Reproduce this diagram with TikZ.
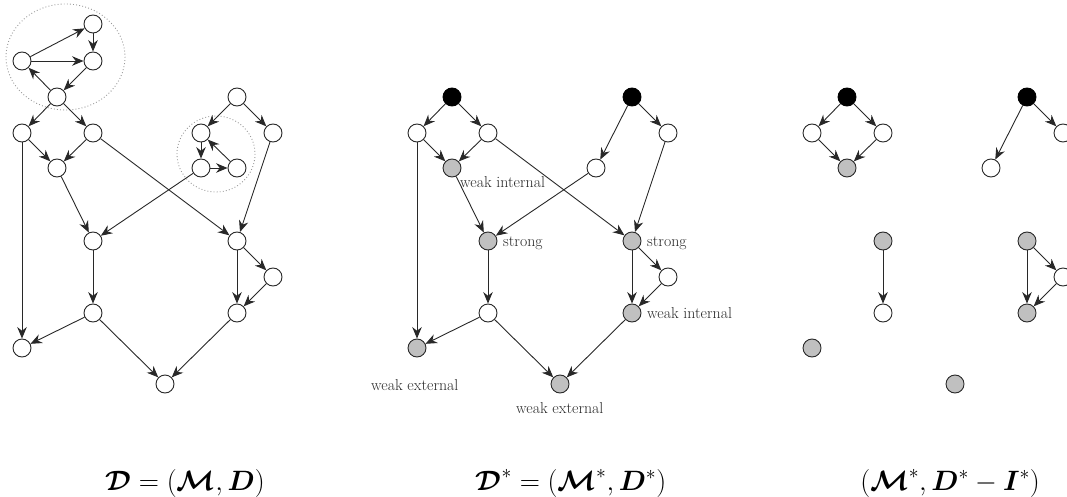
\RequirePackage{fix-cm}
\documentclass[tikz,border=0pt]{standalone}
\usepackage{amsmath,bm}
\usepackage{fontspec}
\usetikzlibrary{arrows.meta}
\definecolor{ln}{RGB}{40,40,40}
\definecolor{gfill}{RGB}{192,192,192}
\definecolor{txt}{RGB}{40,40,40}
\tikzset{
 vx/.style={circle,draw=ln,line width=0.9pt,minimum size=18pt,inner sep=0pt,fill=white},
 gv/.style={vx,fill=gfill},
 bv/.style={vx,fill=black,draw=black},
 ed/.style={-{Stealth[length=11.5pt,width=9.5pt,inset=3.8pt]},line width=0.9pt,draw=ln},
 lbl/.style={font=\fontsize{15.8}{18}\selectfont,text=txt,inner sep=0pt,anchor=base west},
 captxt/.style={font=\fontsize{28}{32}\selectfont,inner sep=0pt,anchor=base},
 grp/.style={draw=gray!80,line width=0.9pt,dash pattern=on 0.9pt off 2.2pt}
}
\begin{document}
\begin{tikzpicture}[x=1pt,y=-1pt]
\useasboundingbox (0,0) rectangle (1067,497);
\clip (0,0) rectangle (1067,497);

% ---------- left graph ----------
\draw[grp] (65.5,57) ellipse [x radius=59.5, y radius=53];
\draw[grp] (216,154) ellipse [x radius=39, y radius=38];
\node[vx] (LA) at (93,24) {};
\node[vx] (LB) at (22,61) {};
\node[vx] (LC) at (93,61) {};
\node[vx] (LD) at (57,97) {};
\node[vx] (LE) at (22,133) {};
\node[vx] (LF) at (93,133) {};
\node[vx] (LG) at (57,168) {};
\node[vx] (LH) at (237,97) {};
\node[vx] (LI) at (201,133) {};
\node[vx] (LJ) at (273,133) {};
\node[vx] (LK) at (201,168) {};
\node[vx] (LL) at (237,168) {};
\node[vx] (LM) at (93,241) {};
\node[vx] (LN) at (237,241) {};
\node[vx] (LO) at (273,277) {};
\node[vx] (LP) at (93,313) {};
\node[vx] (LQ) at (237,313) {};
\node[vx] (LR) at (22,348) {};
\node[vx] (LS) at (165,384) {};
\foreach \a/\b in {LB/LA,LB/LC,LA/LC,LC/LD,LD/LB,LD/LE,LD/LF,LE/LG,LF/LG,LE/LR,LF/LN,
  LG/LM,LH/LI,LH/LJ,LI/LK,LK/LL,LL/LI,LK/LM,LJ/LN,LM/LP,LN/LQ,LN/LO,LO/LQ,LP/LR,LP/LS,LQ/LS}
  \draw[ed] (\a) -- (\b);

% ---------- middle graph ----------
\node[bv] (m1) at (452,97) {};
\node[vx] (m2) at (417,133) {};
\node[vx] (m3) at (488,133) {};
\node[gv] (m4) at (452,168) {};
\node[bv] (m5) at (632,97) {};
\node[vx] (m6) at (596,168) {};
\node[vx] (m7) at (668,133) {};
\node[gv] (m8) at (488,241) {};
\node[gv] (m9) at (632,241) {};
\node[vx] (m10) at (668,277) {};
\node[vx] (m11) at (488,313) {};
\node[gv] (m12) at (632,313) {};
\node[gv] (m13) at (417,348) {};
\node[gv] (m14) at (560,384) {};
\foreach \a/\b in {m1/m2,m1/m3,m2/m4,m3/m4,m2/m13,m3/m9,m4/m8,m5/m6,m5/m7,m6/m8,m7/m9,
  m8/m11,m9/m10,m9/m12,m10/m12,m11/m13,m11/m14,m12/m14}
  \draw[ed] (\a) -- (\b);
\node[lbl] (t1) at (460,187) {weak internal};
\node[lbl] (t2) at (503,246) {strong};
\node[lbl] (t3) at (647,246) {strong};
\node[lbl] (t4) at (647,318) {weak internal};
\node[lbl] (t5) at (371,390) {weak external};
\node[lbl] (t6) at (516,413) {weak external};

% ---------- right graph ----------
\node[bv] (r1) at (847,97) {};
\node[vx] (r2) at (812,133) {};
\node[vx] (r3) at (883,133) {};
\node[gv] (r4) at (847,168) {};
\node[bv] (r5) at (1027,97) {};
\node[vx] (r6) at (991,168) {};
\node[vx] (r7) at (1063,133) {};
\node[gv] (r8) at (883,241) {};
\node[gv] (r9) at (1027,241) {};
\node[vx] (r10) at (1063,277) {};
\node[vx] (r11) at (883,313) {};
\node[gv] (r12) at (1027,313) {};
\node[gv] (r13) at (812,348) {};
\node[gv] (r14) at (955,384) {};
\foreach \a/\b in {r1/r2,r1/r3,r2/r4,r3/r4,r5/r6,r5/r7,r8/r11,r9/r10,r9/r12,r10/r12}
  \draw[ed] (\a) -- (\b);

% ---------- captions ----------
\node[captxt] (c1) at (185,490) {$\bm{\mathcal{D}} = (\bm{\mathcal{M}}, \bm{D})$};
\node[captxt] (c2) at (571,490) {$\bm{\mathcal{D}}^{*} = (\bm{\mathcal{M}}^{*}, \bm{D}^{*})$};
\node[captxt] (c3) at (950,490) {$(\bm{\mathcal{M}}^{*}, \bm{D}^{*} - \bm{I}^{*})$};
\end{tikzpicture}
\end{document}
